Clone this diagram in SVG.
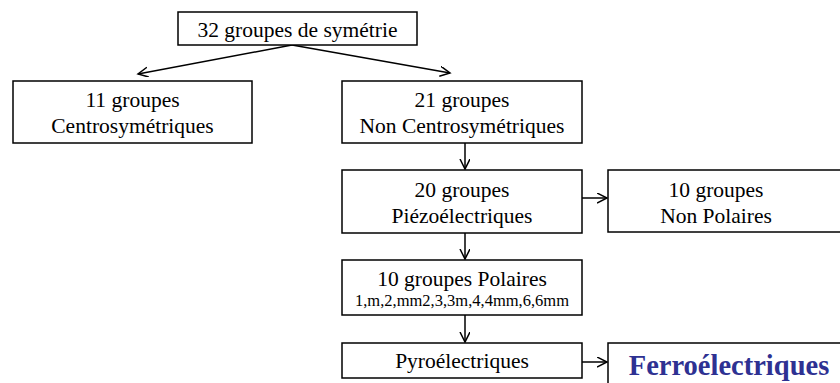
<svg xmlns="http://www.w3.org/2000/svg" width="840" height="383" viewBox="0 0 840 383">
<style>
.box{fill:#fff;stroke:#000;stroke-width:1.5}
.t{font-family:"Liberation Serif","Times New Roman",serif;font-size:21.5px;fill:#000;text-anchor:middle}
.s{font-size:16.5px}
.f{font-family:"Liberation Serif","Times New Roman",serif;font-size:28.5px;font-weight:bold;fill:#2E3192;text-anchor:middle}
.c{fill:none;stroke:#000;stroke-width:1.5}
</style>
<defs>
<marker id="ah" markerWidth="12" markerHeight="12" refX="10" refY="5" orient="auto" markerUnits="userSpaceOnUse" viewBox="0 0 12 12">
<path d="M0,0 L10,5 L0,10" fill="none" stroke="#000" stroke-width="1.5"/>
</marker>
</defs>
<rect width="840" height="383" fill="#fff"/>
<g id="connectors">
<line class="c" x1="292" y1="45" x2="138" y2="74" marker-end="url(#ah)"/>
<line class="c" x1="292" y1="45" x2="450" y2="73" marker-end="url(#ah)"/>
<line class="c" x1="465" y1="143" x2="465" y2="169" marker-end="url(#ah)"/>
<line class="c" x1="465" y1="233" x2="465" y2="259" marker-end="url(#ah)"/>
<line class="c" x1="465" y1="315" x2="465" y2="342" marker-end="url(#ah)"/>
<line class="c" x1="582" y1="198" x2="607" y2="198" marker-end="url(#ah)"/>
<line class="c" x1="582" y1="362" x2="607" y2="362" marker-end="url(#ah)"/>
</g>
<g id="n32">
<rect class="box" x="178" y="12" width="239" height="33"/>
<text class="t" x="297.5" y="37">32 groupes de symétrie</text>
</g>
<g id="n11">
<rect class="box" x="13" y="81" width="239" height="62"/>
<text class="t" x="132.5" y="107">11 groupes</text>
<text class="t" x="132.5" y="133">Centrosymétriques</text>
</g>
<g id="n21">
<rect class="box" x="342" y="81" width="240" height="62"/>
<text class="t" x="462" y="107">21 groupes</text>
<text class="t" x="462" y="133">Non Centrosymétriques</text>
</g>
<g id="n20">
<rect class="box" x="342" y="170" width="240" height="63"/>
<text class="t" x="462" y="197">20 groupes</text>
<text class="t" x="462" y="223">Piézoélectriques</text>
</g>
<g id="nnp">
<rect class="box" x="608" y="170" width="260" height="62"/>
<text class="t" x="716" y="197">10 groupes</text>
<text class="t" x="716" y="223">Non Polaires</text>
</g>
<g id="npol">
<rect class="box" x="342" y="260" width="240" height="55"/>
<text class="t" x="462" y="286">10 groupes Polaires</text>
<text class="t s" x="462" y="306">1,m,2,mm2,3,3m,4,4mm,6,6mm</text>
</g>
<g id="npyro">
<rect class="box" x="342" y="343" width="240" height="35"/>
<text class="t" x="462" y="368">Pyroélectriques</text>
</g>
<g id="nferro">
<rect class="box" x="608" y="343" width="260" height="60"/>
<text class="f" x="729" y="375">Ferroélectriques</text>
</g>
</svg>
